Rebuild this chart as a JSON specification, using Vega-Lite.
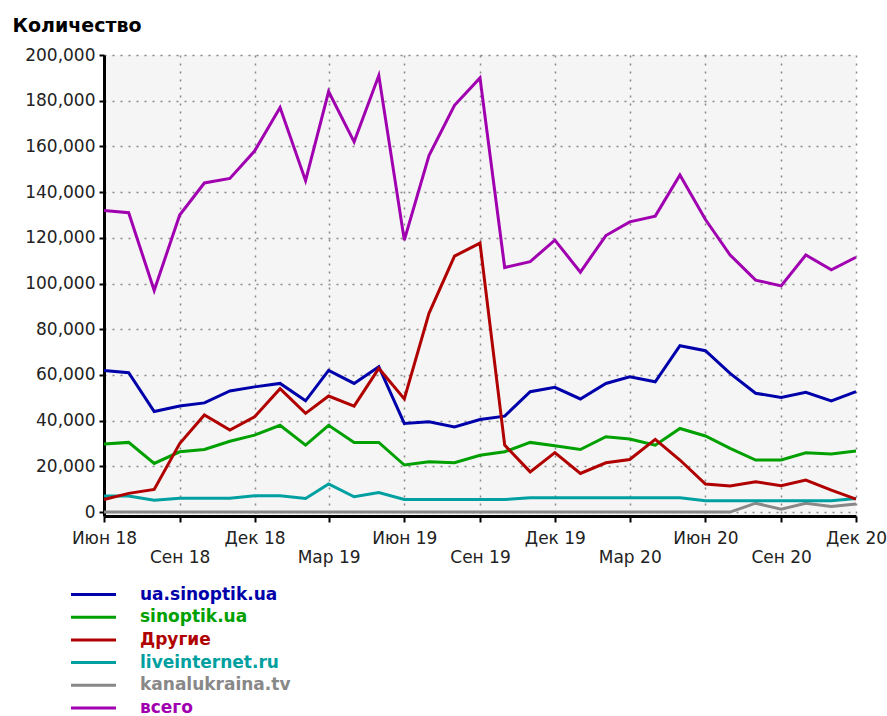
{
  "$schema": "https://vega.github.io/schema/vega-lite/v6.json",
  "width": 752,
  "height": 461,
  "autosize": {"type": "none"},
  "padding": {"left": 104, "top": 55, "right": 31, "bottom": 200},
  "background": "white",
  "config": {"view": {"fill": "#f5f5f5", "stroke": null}, "font": "DejaVu Sans"},
  "data": {
    "values": [
      {"d":"2018-06-01","s":"kanalukraina.tv","v":0},{"d":"2018-07-01","s":"kanalukraina.tv","v":0},{"d":"2018-08-01","s":"kanalukraina.tv","v":0},{"d":"2018-09-01","s":"kanalukraina.tv","v":0},{"d":"2018-10-01","s":"kanalukraina.tv","v":0},{"d":"2018-11-01","s":"kanalukraina.tv","v":0},{"d":"2018-12-01","s":"kanalukraina.tv","v":0},{"d":"2019-01-01","s":"kanalukraina.tv","v":0},{"d":"2019-02-01","s":"kanalukraina.tv","v":0},{"d":"2019-03-01","s":"kanalukraina.tv","v":0},{"d":"2019-04-01","s":"kanalukraina.tv","v":0},{"d":"2019-05-01","s":"kanalukraina.tv","v":0},{"d":"2019-06-01","s":"kanalukraina.tv","v":0},{"d":"2019-07-01","s":"kanalukraina.tv","v":0},{"d":"2019-08-01","s":"kanalukraina.tv","v":0},{"d":"2019-09-01","s":"kanalukraina.tv","v":0},{"d":"2019-10-01","s":"kanalukraina.tv","v":0},{"d":"2019-11-01","s":"kanalukraina.tv","v":0},{"d":"2019-12-01","s":"kanalukraina.tv","v":0},{"d":"2020-01-01","s":"kanalukraina.tv","v":0},{"d":"2020-02-01","s":"kanalukraina.tv","v":0},{"d":"2020-03-01","s":"kanalukraina.tv","v":0},{"d":"2020-04-01","s":"kanalukraina.tv","v":0},{"d":"2020-05-01","s":"kanalukraina.tv","v":0},{"d":"2020-06-01","s":"kanalukraina.tv","v":0},{"d":"2020-07-01","s":"kanalukraina.tv","v":0},{"d":"2020-08-01","s":"kanalukraina.tv","v":3900},{"d":"2020-09-01","s":"kanalukraina.tv","v":1300},{"d":"2020-10-01","s":"kanalukraina.tv","v":3900},{"d":"2020-11-01","s":"kanalukraina.tv","v":2500},{"d":"2020-12-01","s":"kanalukraina.tv","v":3500},

      {"d":"2018-06-01","s":"liveinternet.ru","v":7000},{"d":"2018-07-01","s":"liveinternet.ru","v":7000},{"d":"2018-08-01","s":"liveinternet.ru","v":5200},{"d":"2018-09-01","s":"liveinternet.ru","v":6100},{"d":"2018-10-01","s":"liveinternet.ru","v":6100},{"d":"2018-11-01","s":"liveinternet.ru","v":6100},{"d":"2018-12-01","s":"liveinternet.ru","v":7200},{"d":"2019-01-01","s":"liveinternet.ru","v":7200},{"d":"2019-02-01","s":"liveinternet.ru","v":6000},{"d":"2019-03-01","s":"liveinternet.ru","v":12300},{"d":"2019-04-01","s":"liveinternet.ru","v":6700},{"d":"2019-05-01","s":"liveinternet.ru","v":8600},{"d":"2019-06-01","s":"liveinternet.ru","v":5500},{"d":"2019-07-01","s":"liveinternet.ru","v":5500},{"d":"2019-08-01","s":"liveinternet.ru","v":5500},{"d":"2019-09-01","s":"liveinternet.ru","v":5500},{"d":"2019-10-01","s":"liveinternet.ru","v":5500},{"d":"2019-11-01","s":"liveinternet.ru","v":6300},{"d":"2019-12-01","s":"liveinternet.ru","v":6300},{"d":"2020-01-01","s":"liveinternet.ru","v":6300},{"d":"2020-02-01","s":"liveinternet.ru","v":6300},{"d":"2020-03-01","s":"liveinternet.ru","v":6300},{"d":"2020-04-01","s":"liveinternet.ru","v":6300},{"d":"2020-05-01","s":"liveinternet.ru","v":6300},{"d":"2020-06-01","s":"liveinternet.ru","v":5000},{"d":"2020-07-01","s":"liveinternet.ru","v":5000},{"d":"2020-08-01","s":"liveinternet.ru","v":5000},{"d":"2020-09-01","s":"liveinternet.ru","v":5000},{"d":"2020-10-01","s":"liveinternet.ru","v":5000},{"d":"2020-11-01","s":"liveinternet.ru","v":5000},{"d":"2020-12-01","s":"liveinternet.ru","v":6000},

      {"d":"2018-06-01","s":"sinoptik.ua","v":29800},{"d":"2018-07-01","s":"sinoptik.ua","v":30500},{"d":"2018-08-01","s":"sinoptik.ua","v":21300},{"d":"2018-09-01","s":"sinoptik.ua","v":26400},{"d":"2018-10-01","s":"sinoptik.ua","v":27400},{"d":"2018-11-01","s":"sinoptik.ua","v":31000},{"d":"2018-12-01","s":"sinoptik.ua","v":33700},{"d":"2019-01-01","s":"sinoptik.ua","v":38000},{"d":"2019-02-01","s":"sinoptik.ua","v":29300},{"d":"2019-03-01","s":"sinoptik.ua","v":38000},{"d":"2019-04-01","s":"sinoptik.ua","v":30500},{"d":"2019-05-01","s":"sinoptik.ua","v":30500},{"d":"2019-06-01","s":"sinoptik.ua","v":20600},{"d":"2019-07-01","s":"sinoptik.ua","v":22000},{"d":"2019-08-01","s":"sinoptik.ua","v":21600},{"d":"2019-09-01","s":"sinoptik.ua","v":24900},{"d":"2019-10-01","s":"sinoptik.ua","v":26400},{"d":"2019-11-01","s":"sinoptik.ua","v":30500},{"d":"2019-12-01","s":"sinoptik.ua","v":29000},{"d":"2020-01-01","s":"sinoptik.ua","v":27400},{"d":"2020-02-01","s":"sinoptik.ua","v":33000},{"d":"2020-03-01","s":"sinoptik.ua","v":32000},{"d":"2020-04-01","s":"sinoptik.ua","v":29300},{"d":"2020-05-01","s":"sinoptik.ua","v":36600},{"d":"2020-06-01","s":"sinoptik.ua","v":33300},{"d":"2020-07-01","s":"sinoptik.ua","v":27900},{"d":"2020-08-01","s":"sinoptik.ua","v":22800},{"d":"2020-09-01","s":"sinoptik.ua","v":22800},{"d":"2020-10-01","s":"sinoptik.ua","v":26000},{"d":"2020-11-01","s":"sinoptik.ua","v":25400},{"d":"2020-12-01","s":"sinoptik.ua","v":26700},

      {"d":"2018-06-01","s":"ua.sinoptik.ua","v":62000},{"d":"2018-07-01","s":"ua.sinoptik.ua","v":61000},{"d":"2018-08-01","s":"ua.sinoptik.ua","v":44000},{"d":"2018-09-01","s":"ua.sinoptik.ua","v":46400},{"d":"2018-10-01","s":"ua.sinoptik.ua","v":47800},{"d":"2018-11-01","s":"ua.sinoptik.ua","v":53000},{"d":"2018-12-01","s":"ua.sinoptik.ua","v":54800},{"d":"2019-01-01","s":"ua.sinoptik.ua","v":56300},{"d":"2019-02-01","s":"ua.sinoptik.ua","v":48700},{"d":"2019-03-01","s":"ua.sinoptik.ua","v":62000},{"d":"2019-04-01","s":"ua.sinoptik.ua","v":56300},{"d":"2019-05-01","s":"ua.sinoptik.ua","v":63600},{"d":"2019-06-01","s":"ua.sinoptik.ua","v":38800},{"d":"2019-07-01","s":"ua.sinoptik.ua","v":39500},{"d":"2019-08-01","s":"ua.sinoptik.ua","v":37300},{"d":"2019-09-01","s":"ua.sinoptik.ua","v":40500},{"d":"2019-10-01","s":"ua.sinoptik.ua","v":42000},{"d":"2019-11-01","s":"ua.sinoptik.ua","v":52700},{"d":"2019-12-01","s":"ua.sinoptik.ua","v":54600},{"d":"2020-01-01","s":"ua.sinoptik.ua","v":49500},{"d":"2020-02-01","s":"ua.sinoptik.ua","v":56300},{"d":"2020-03-01","s":"ua.sinoptik.ua","v":59200},{"d":"2020-04-01","s":"ua.sinoptik.ua","v":57000},{"d":"2020-05-01","s":"ua.sinoptik.ua","v":72800},{"d":"2020-06-01","s":"ua.sinoptik.ua","v":70600},{"d":"2020-07-01","s":"ua.sinoptik.ua","v":60700},{"d":"2020-08-01","s":"ua.sinoptik.ua","v":52000},{"d":"2020-09-01","s":"ua.sinoptik.ua","v":50200},{"d":"2020-10-01","s":"ua.sinoptik.ua","v":52400},{"d":"2020-11-01","s":"ua.sinoptik.ua","v":48700},{"d":"2020-12-01","s":"ua.sinoptik.ua","v":52700},

      {"d":"2018-06-01","s":"Другие","v":5500},{"d":"2018-07-01","s":"Другие","v":8200},{"d":"2018-08-01","s":"Другие","v":9900},{"d":"2018-09-01","s":"Другие","v":30000},{"d":"2018-10-01","s":"Другие","v":42500},{"d":"2018-11-01","s":"Другие","v":35900},{"d":"2018-12-01","s":"Другие","v":41700},{"d":"2019-01-01","s":"Другие","v":54000},{"d":"2019-02-01","s":"Другие","v":43200},{"d":"2019-03-01","s":"Другие","v":50800},{"d":"2019-04-01","s":"Другие","v":46400},{"d":"2019-05-01","s":"Другие","v":62900},{"d":"2019-06-01","s":"Другие","v":49500},{"d":"2019-07-01","s":"Другие","v":87000},{"d":"2019-08-01","s":"Другие","v":112000},{"d":"2019-09-01","s":"Другие","v":117700},{"d":"2019-10-01","s":"Другие","v":29300},{"d":"2019-11-01","s":"Другие","v":17600},{"d":"2019-12-01","s":"Другие","v":26000},{"d":"2020-01-01","s":"Другие","v":16900},{"d":"2020-02-01","s":"Другие","v":21600},{"d":"2020-03-01","s":"Другие","v":23000},{"d":"2020-04-01","s":"Другие","v":31800},{"d":"2020-05-01","s":"Другие","v":22800},{"d":"2020-06-01","s":"Другие","v":12300},{"d":"2020-07-01","s":"Другие","v":11400},{"d":"2020-08-01","s":"Другие","v":13300},{"d":"2020-09-01","s":"Другие","v":11500},{"d":"2020-10-01","s":"Другие","v":14000},{"d":"2020-11-01","s":"Другие","v":9600},{"d":"2020-12-01","s":"Другие","v":5700},

      {"d":"2018-06-01","s":"всего","v":132000},{"d":"2018-07-01","s":"всего","v":131000},{"d":"2018-08-01","s":"всего","v":97000},{"d":"2018-09-01","s":"всего","v":130000},{"d":"2018-10-01","s":"всего","v":144000},{"d":"2018-11-01","s":"всего","v":146000},{"d":"2018-12-01","s":"всего","v":158000},{"d":"2019-01-01","s":"всего","v":177000},{"d":"2019-02-01","s":"всего","v":145000},{"d":"2019-03-01","s":"всего","v":184000},{"d":"2019-04-01","s":"всего","v":162000},{"d":"2019-05-01","s":"всего","v":191000},{"d":"2019-06-01","s":"всего","v":119000},{"d":"2019-07-01","s":"всего","v":156000},{"d":"2019-08-01","s":"всего","v":178000},{"d":"2019-09-01","s":"всего","v":190000},{"d":"2019-10-01","s":"всего","v":107000},{"d":"2019-11-01","s":"всего","v":109600},{"d":"2019-12-01","s":"всего","v":119000},{"d":"2020-01-01","s":"всего","v":105000},{"d":"2020-02-01","s":"всего","v":121000},{"d":"2020-03-01","s":"всего","v":127000},{"d":"2020-04-01","s":"всего","v":129500},{"d":"2020-05-01","s":"всего","v":147500},{"d":"2020-06-01","s":"всего","v":128000},{"d":"2020-07-01","s":"всего","v":112500},{"d":"2020-08-01","s":"всего","v":101500},{"d":"2020-09-01","s":"всего","v":99000},{"d":"2020-10-01","s":"всего","v":112500},{"d":"2020-11-01","s":"всего","v":106000},{"d":"2020-12-01","s":"всего","v":111500}
    ]
  },
  "mark": {"type": "line", "strokeWidth": 3},
  "encoding": {
    "x": {
      "field": "d",
      "type": "temporal",
      "scale": {
        "type": "utc",
        "domain": [{"year": 2018, "month": 6, "date": 1, "utc": true}, {"year": 2020, "month": 12, "date": 1, "utc": true}]
      },
      "axis": {
        "title": null,
        "values": [
          {"year": 2018, "month": 6, "date": 1, "utc": true},
          {"year": 2018, "month": 9, "date": 1, "utc": true},
          {"year": 2018, "month": 12, "date": 1, "utc": true},
          {"year": 2019, "month": 3, "date": 1, "utc": true},
          {"year": 2019, "month": 6, "date": 1, "utc": true},
          {"year": 2019, "month": 9, "date": 1, "utc": true},
          {"year": 2019, "month": 12, "date": 1, "utc": true},
          {"year": 2020, "month": 3, "date": 1, "utc": true},
          {"year": 2020, "month": 6, "date": 1, "utc": true},
          {"year": 2020, "month": 9, "date": 1, "utc": true},
          {"year": 2020, "month": 12, "date": 1, "utc": true}
        ],
        "labelExpr": "(utcmonth(datum.value)==8 || utcmonth(datum.value)==2) ? ['', (utcmonth(datum.value)==8 ? 'Сен' : 'Мар') + ' ' + utcFormat(datum.value, '%y')] : (utcmonth(datum.value)==5 ? 'Июн' : 'Дек') + ' ' + utcFormat(datum.value, '%y')",
        "labelFont": "DejaVu Sans",
        "labelFontSize": 17,
        "labelColor": "#222222",
        "labelPadding": 8,
        "labelLineHeight": 19,
        "labelBaseline": "top",
        "labelAlign": "center",
        "labelOverlap": false,
        "labelFlush": false,
        "domainColor": "black",
        "domainWidth": 3,
        "tickColor": "black",
        "tickWidth": 2,
        "tickSize": 6,
        "grid": true,
        "gridColor": "#888888",
        "gridDash": [2, 6],
        "gridWidth": 1.5
      }
    },
    "y": {
      "field": "v",
      "type": "quantitative",
      "scale": {"domain": [-1700, 200000], "nice": false, "zero": false},
      "axis": {
        "title": "Количество",
        "titleAngle": 0,
        "titleAlign": "left",
        "titleBaseline": "alphabetic",
        "titleX": -92,
        "titleY": -24,
        "titleFont": "DejaVu Sans",
        "titleFontSize": 19,
        "titleFontWeight": "bold",
        "titleColor": "black",
        "values": [0, 20000, 40000, 60000, 80000, 100000, 120000, 140000, 160000, 180000, 200000],
        "format": ",d",
        "labelFont": "DejaVu Sans",
        "labelFontSize": 17,
        "labelColor": "#222222",
        "labelPadding": 4,
        "labelFlush": false,
        "labelOverlap": false,
        "tickSize": 5,
        "tickWidth": 2,
        "tickColor": "black",
        "domainColor": "black",
        "domainWidth": 3,
        "grid": true,
        "gridColor": "#888888",
        "gridDash": [2, 6],
        "gridWidth": 1.5
      }
    },
    "color": {
      "field": "s",
      "type": "nominal",
      "scale": {
        "domain": ["ua.sinoptik.ua", "sinoptik.ua", "Другие", "liveinternet.ru", "kanalukraina.tv", "всего"],
        "range": ["#0000aa", "#00a000", "#b00000", "#00a0a0", "#888888", "#a000b0"]
      },
      "legend": {
        "title": null,
        "orient": "none",
        "legendX": -19,
        "legendY": 531,
        "padding": 0,
        "symbolType": "M-5,0H5",
        "symbolSize": 81,
        "symbolStrokeWidth": 3,
        "labelFont": "DejaVu Sans",
        "labelFontSize": 17,
        "labelFontWeight": "bold",
        "labelOffset": 38,
        "labelLimit": 300,
        "rowPadding": 4.7,
        "encode": {"labels": {"update": {"fill": {"scale": "color", "field": "value"}}}}
      }
    }
  }
}
